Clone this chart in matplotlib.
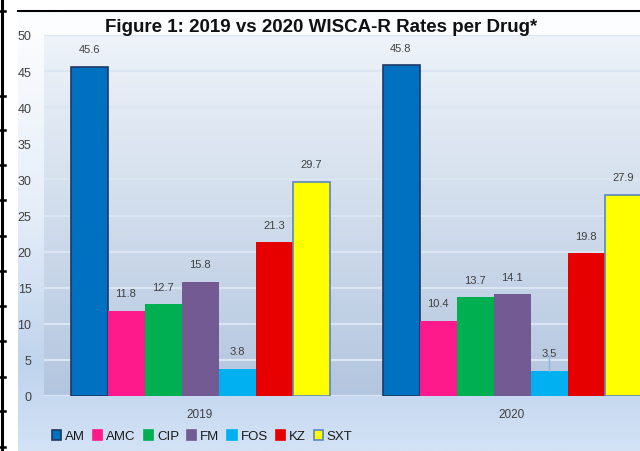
import numpy as np
import matplotlib.pyplot as plt
from matplotlib.patches import Patch, Rectangle
from matplotlib.colors import LinearSegmentedColormap
from matplotlib.lines import Line2D

plt.rcParams['font.family'] = ['Liberation Sans', 'DejaVu Sans']

# data
years = ["2019", "2020"]
drugs = ["AM", "AMC", "CIP", "FM", "FOS", "KZ", "SXT"]
rates = {
    "AM": [45.6, 45.8],
    "AMC": [11.8, 10.4],
    "CIP": [12.7, 13.7],
    "FM": [15.8, 14.1],
    "FOS": [3.8, 3.5],
    "KZ": [21.3, 19.8],
    "SXT": [29.7, 27.9],
}
colors = ["#0070c0", "#ff1a8c", "#00b050", "#745a92", "#00b0f0", "#e60000", "#ffff00"]
edges = ["#1f3864", "none", "none", "none", "none", "none", "#5b87c0"]

W, H = 640, 452
fig = plt.figure(figsize=(W / 100, H / 100), dpi=100)
fig.patch.set_facecolor("white")

# background (outer chart area gradient + page borders), pixel coords
bg = fig.add_axes([0, 0, 1, 1], zorder=-5)
bg.set_xlim(0, W)
bg.set_ylim(H, 0)
bg.axis("off")
outer = LinearSegmentedColormap.from_list(
    "outer", [(0, "#fdfeff"), (0.45, "#e6eef9"), (0.8, "#bfd4ed"), (1.0, "#d3e2f5")])
grad = np.linspace(0, 1, 256).reshape(-1, 1)
bg.imshow(grad, cmap=outer, aspect="auto", extent=[18, W, H, 13], zorder=0)

# main axes
x0, x1 = 44, 668
ytop, ybot = 36, 397
ax = fig.add_axes([x0 / W, (H - ybot) / H, (x1 - x0) / W, (ybot - ytop) / H])
ax.patch.set_alpha(0)
inner = LinearSegmentedColormap.from_list("inner", ["#eef3f9", "#b3c6df"])
ax.imshow(grad, cmap=inner, aspect="auto", extent=[-0.5, 1.5, 0, 50], zorder=0)
ax.set_xlim(-0.5, 1.5)
ax.set_ylim(0, 50)
for s in ax.spines.values():
    s.set_visible(False)
ax.set_yticks(np.arange(0, 51, 5))
ax.yaxis.grid(True, color="#dce6f2", linewidth=1.5, zorder=1)
ax.set_axisbelow(True)
ax.tick_params(axis="y", length=0, pad=9, labelsize=9, labelcolor="#404040")
ax.tick_params(axis="x", length=0, pad=9, labelsize=8.5, labelcolor="#404040")

x = np.arange(len(years))
bw = 37 / 312
for i, d in enumerate(drugs):
    pos = x + (i - 3) * bw
    bars = ax.bar(pos, rates[d], width=bw, color=colors[i], edgecolor=edges[i],
                  linewidth=1.2 if edges[i] != "none" else 0, zorder=3)
    for xp, v in zip(pos, rates[d]):
        ax.annotate(f"{v}", (xp, v), xytext=(0, 9), textcoords="offset points",
                    ha="center", va="bottom", fontsize=8, color="#404040", zorder=4)
    if d == "FOS":
        ax.plot([pos[1], pos[1]], [rates[d][1], rates[d][1] + 2.2],
                color="#8eb4e3", linewidth=1, zorder=4)
ax.set_xticks(x)
ax.set_xticklabels(years)

# title
fig.text(321 / W, 1 - 28 / H, "Figure 1: 2019 vs 2020 WISCA-R Rates per Drug*",
         ha="center", va="center", fontsize=13.5, fontweight="bold", color="#111111")

# legend
handles = [Patch(facecolor=c, edgecolor=e if e != "none" else c, linewidth=1.2)
           for c, e in zip(colors, edges)]
leg = fig.legend(handles, drugs, ncol=7, loc="center left",
                 bbox_to_anchor=(52 / W, 1 - 437 / H), frameon=False,
                 fontsize=9.5, handlelength=0.7, handleheight=0.8,
                 handletextpad=0.3, columnspacing=0.6, borderaxespad=0, borderpad=0)
for t in leg.get_texts():
    t.set_color("#1a1a1a")

# page borders from the surrounding document
fig.patches.append(Rectangle((5 / W, 0), 13 / W, 1, transform=fig.transFigure,
                             facecolor="white", edgecolor="none", zorder=10))
fig.lines.append(Line2D([2 / W, 2 / W], [0, 1], transform=fig.transFigure,
                        color="black", linewidth=2.2, zorder=11))
fig.lines.append(Line2D([18 / W, 1], [1 - 12 / H, 1 - 12 / H], transform=fig.transFigure,
                        color="black", linewidth=1.5, zorder=11))
for yy in [12, 97, 131, 166, 201, 237, 272, 307, 342, 378, 412, 448]:
    fig.lines.append(Line2D([0, 5 / W], [1 - yy / H, 1 - yy / H], transform=fig.transFigure,
                            color="black", linewidth=1.8, zorder=11))

fig.savefig("out.png", dpi=100)
